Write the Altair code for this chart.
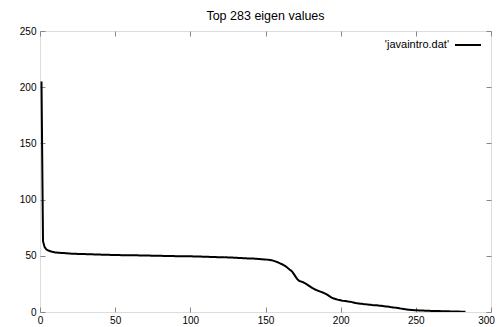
import altair as alt
import pandas as pd

title_text = "Top 283 eigen values"
legend_label = "'javaintro.dat'"
x_ticks = [0, 50, 100, 150, 200, 250, 300]
y_ticks = [0, 50, 100, 150, 200, 250]

eigen = [
    205, 63, 58, 56, 55, 54.5, 54, 53.6, 53.3, 53.0,
    52.9, 52.8, 52.7, 52.6, 52.5, 52.4, 52.3, 52.2, 52.1, 52.0,
    51.9, 51.9, 51.8, 51.8, 51.7, 51.7, 51.6, 51.6, 51.5, 51.5,
    51.4, 51.4, 51.3, 51.3, 51.3, 51.2, 51.2, 51.1, 51.1, 51.1,
    51.0, 51.0, 51.0, 50.9, 50.9, 50.9, 50.8, 50.8, 50.8, 50.8,
    50.7, 50.7, 50.7, 50.6, 50.6, 50.6, 50.6, 50.5, 50.5, 50.5,
    50.5, 50.4, 50.4, 50.4, 50.4, 50.3, 50.3, 50.3, 50.3, 50.2,
    50.2, 50.2, 50.2, 50.1, 50.1, 50.1, 50.1, 50.0, 50.0, 50.0,
    50.0, 49.9, 49.9, 49.9, 49.9, 49.8, 49.8, 49.8, 49.8, 49.7,
    49.7, 49.7, 49.7, 49.6, 49.6, 49.6, 49.6, 49.5, 49.5, 49.5,
    49.5, 49.4, 49.4, 49.4, 49.3, 49.3, 49.3, 49.2, 49.2, 49.2,
    49.1, 49.1, 49.0, 49.0, 49.0, 48.9, 48.9, 48.8, 48.8, 48.8,
    48.7, 48.7, 48.6, 48.6, 48.5, 48.5, 48.4, 48.4, 48.3, 48.3,
    48.2, 48.1, 48.1, 48.0, 47.9, 47.9, 47.8, 47.7, 47.7, 47.6,
    47.5, 47.5, 47.4, 47.3, 47.2, 47.1, 47.0, 46.9, 46.8, 46.7,
    46.6, 46.4, 46.2, 46.0, 45.7, 45.3, 44.8, 44.3, 43.7, 43.1,
    42.5, 41.8, 41.0, 40.0, 38.9, 37.8, 36.8, 35.5, 33.5, 31.5,
    29.5, 28.0, 27.4, 27.0, 26.5, 25.8, 25.0, 24.2, 23.3, 22.4,
    21.5, 20.7, 20.0, 19.4, 18.9, 18.4, 17.9, 17.4, 16.8, 16.2,
    15.5, 14.6, 13.6, 12.8, 12.2, 11.8, 11.4, 11.0, 10.7, 10.4,
    10.1, 9.9, 9.7, 9.5, 9.3, 9.2, 9.0, 8.6, 8.3, 8.0,
    7.8, 7.6, 7.4, 7.3, 7.1, 7.0, 6.8, 6.7, 6.5, 6.4,
    6.2, 6.1, 6.0, 5.9, 5.8, 5.6, 5.5, 5.3, 5.1, 4.9,
    4.8, 4.6, 4.4, 4.3, 4.1, 3.9, 3.7, 3.5, 3.3, 3.0,
    2.8, 2.6, 2.4, 2.2, 2.0, 1.9, 1.8, 1.7, 1.6, 1.5,
    1.5, 1.4, 1.4, 1.3, 1.3, 1.2, 1.2, 1.1, 1.1, 1.0,
    1.0, 0.95, 0.9, 0.85, 0.8, 0.8, 0.75, 0.7, 0.7, 0.65,
    0.6, 0.6, 0.55, 0.5, 0.5, 0.45, 0.4, 0.4, 0.35, 0.3,
    0.3, 0.25, 0.2,
]
index = list(range(1, len(eigen) + 1))

df = pd.DataFrame({"i": index, "v": eigen})
FONT = "Liberation Sans"

xs = alt.Scale(domain=[0, 300], nice=False, zero=False)
ys = alt.Scale(domain=[0, 250], nice=False, zero=False)

main = alt.Chart(df).mark_line(color="black", strokeWidth=2, clip=True).encode(
    x=alt.X("i:Q", scale=xs, axis=alt.Axis(
        orient="bottom", values=x_ticks, offset=-5, tickSize=5, domain=False,
        grid=False, title=None, labelPadding=3, labelFlush=False,
        labelOverlap=False, format="d",
        labelOffset=alt.ExprRef("datum.value == 300 ? -5 : 0"))),
    y=alt.Y("v:Q", scale=ys, axis=alt.Axis(
        orient="left", values=y_ticks, offset=-5, tickSize=5, domain=False,
        grid=False, title=None, labelPadding=4, labelOverlap=False, format="d")),
)

mirror = alt.Chart(df).mark_line(opacity=0).encode(
    x=alt.X("i:Q", scale=xs, axis=alt.Axis(
        orient="top", values=x_ticks, offset=-5, tickSize=5, domain=False,
        grid=False, title=None, labels=False)),
    y=alt.Y("v:Q", scale=ys, axis=alt.Axis(
        orient="right", values=y_ticks, offset=-5, tickSize=5, domain=False,
        grid=False, title=None, labels=False)),
)

title_df = pd.DataFrame({"t": [title_text]})
title_mark = alt.Chart(title_df).mark_text(
    align="center", baseline="alphabetic", font=FONT, fontSize=12.5, color="black"
).encode(x=alt.value(225.5), y=alt.value(-11), text="t:N")

leg_df = pd.DataFrame({"label": [legend_label]})
leg_text = alt.Chart(leg_df).mark_text(
    align="right", baseline="middle", font=FONT, fontSize=11, color="black"
).encode(x=alt.value(409), y=alt.value(14), text="label:N")
leg_line = alt.Chart(leg_df).mark_rule(color="black", strokeWidth=2).encode(
    x=alt.value(415), x2=alt.value(441), y=alt.value(14))

chart = alt.layer(main, mirror, title_mark, leg_text, leg_line).properties(
    width=451, height=281,
    autosize=alt.AutoSizeParams(type="none"),
    padding={"left": 32, "top": 23, "right": 4, "bottom": 16},
).configure_view(stroke="black", strokeWidth=1.5).configure_axis(
    labelFont=FONT, labelFontSize=11, labelColor="black",
    tickColor="black", tickWidth=1.5,
).configure(background="white")

chart.save("out.html", embed_options={"renderer": "svg", "actions": False})
